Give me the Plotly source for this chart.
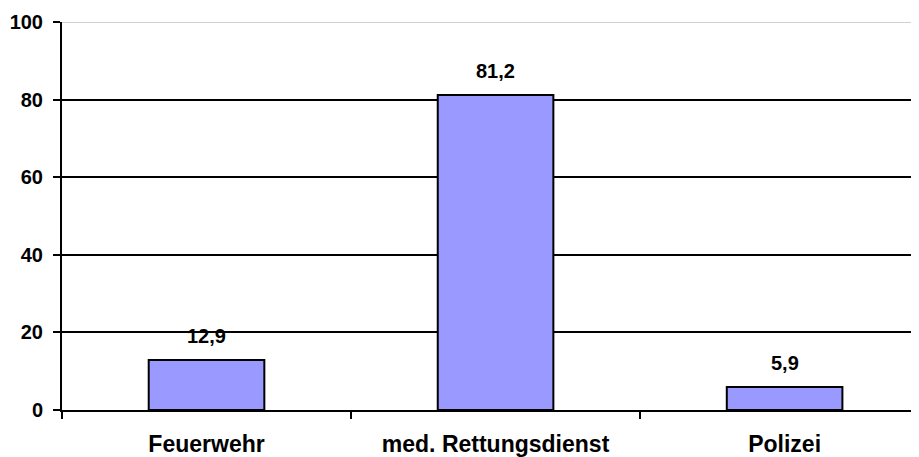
import plotly.graph_objects as go

categories = ["Feuerwehr", "med. Rettungsdienst", "Polizei"]
values = [12.9, 81.2, 5.9]
value_labels = ["12,9", "81,2", "5,9"]
y_ticks = [0, 20, 40, 60, 80, 100]

FONT = "Liberation Sans, Arial, sans-serif"

fig = go.Figure()
fig.add_trace(go.Bar(
    x=categories, y=values,
    marker=dict(color="#9999FF", line=dict(color="black", width=2)),
    width=0.4,
    hoverinfo="skip",
))

for c, v, t in zip(categories, values, value_labels):
    fig.add_annotation(x=c, y=v, text=t, showarrow=False, yanchor="middle", yshift=24,
                       font=dict(family=FONT, size=20, color="black", weight="bold"))

fig.add_shape(type="line", xref="paper", x0=0, x1=1, yref="y", y0=100, y1=100,
              line=dict(color="#d0d0d0", width=2), layer="above")

fig.update_layout(
    width=911, height=449,
    margin=dict(l=54, r=0, t=14, b=47, autoexpand=False),
    paper_bgcolor="white", plot_bgcolor="white",
    showlegend=False,
    bargap=0.6,
    font=dict(family=FONT, color="black"),
    xaxis=dict(
        type="category",
        range=[-0.5, 2.465],
        showgrid=False, zeroline=False,
        showline=True, linecolor="black", linewidth=2,
        ticks="outside", tickson="boundaries", ticklen=7, tickwidth=2, tickcolor="black",
        tickfont=dict(family=FONT, size=23, color="black", weight="bold"),
        ticklabelstandoff=12,
        automargin=False,
    ),
    yaxis=dict(
        range=[0, 100],
        tickvals=y_ticks,
        showgrid=True, gridcolor="black", gridwidth=2,
        zeroline=False,
        showline=True, linecolor="black", linewidth=2,
        ticks="outside", ticklen=7, tickwidth=2, tickcolor="black",
        tickfont=dict(family=FONT, size=20, color="black", weight="bold"),
        ticklabelstandoff=6,
        automargin=False,
    ),
)

fig.write_html("out.html")
